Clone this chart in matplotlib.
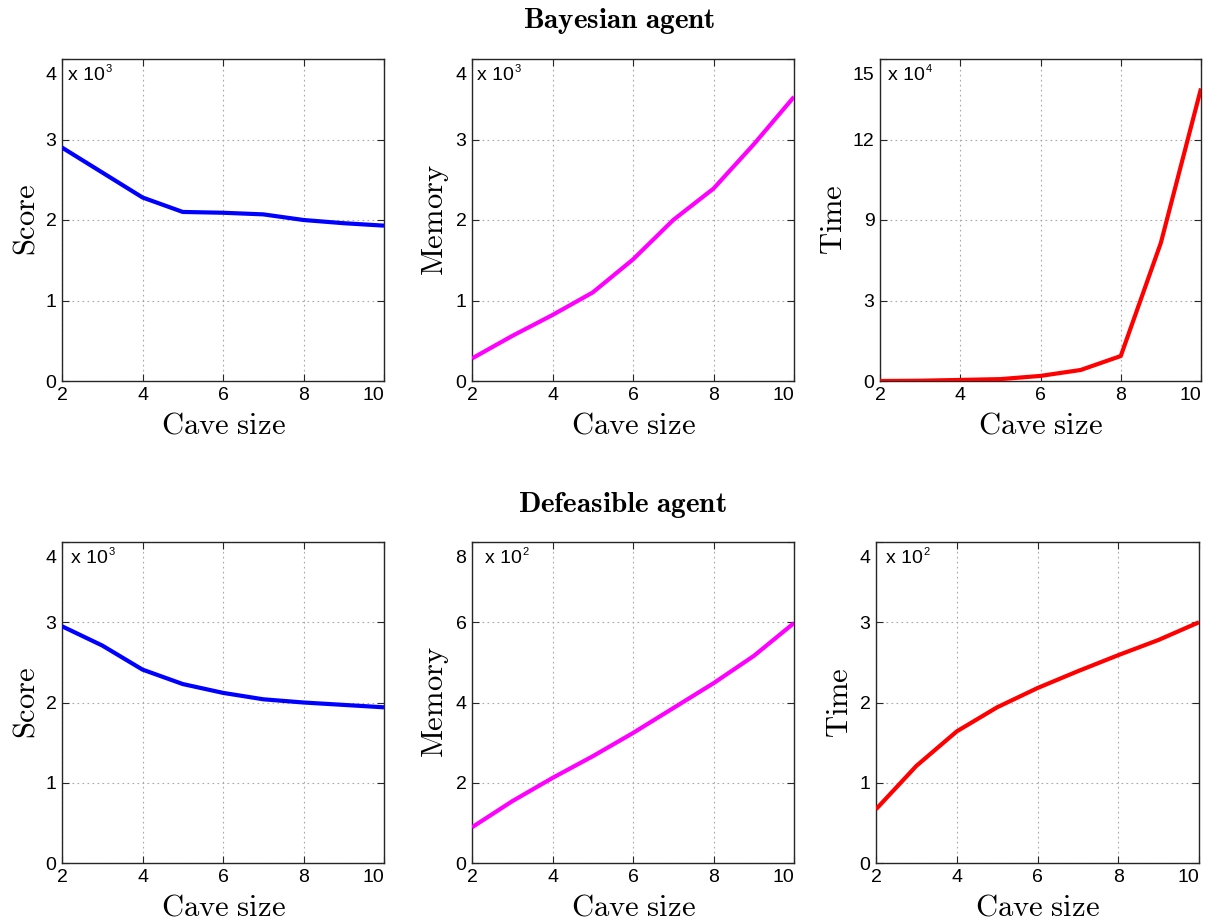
import numpy as np
import matplotlib
matplotlib.use("Agg")
import matplotlib.pyplot as plt
import matplotlib.transforms as mtransforms

plt.rcParams['font.family'] = ['Liberation Sans', 'DejaVu Sans']
plt.rcParams['mathtext.fontset'] = 'cm'

# ---------------- data ----------------
cave_size = [2, 3, 4, 5, 6, 7, 8, 9, 10]

bayes_score = [2.90, 2.59, 2.28, 2.10, 2.09, 2.07, 2.00, 1.96, 1.93]      # x 10^3
bayes_memory = [0.28, 0.56, 0.82, 1.10, 1.51, 2.00, 2.39, 2.94, 3.53]     # x 10^3
bayes_time = [0.0, 0.01, 0.04, 0.07, 0.19, 0.41, 0.93, 7.3, 13.9]        # x 10^4

def_score = [2.95, 2.71, 2.41, 2.23, 2.12, 2.04, 2.00, 1.97, 1.94]        # x 10^3
def_memory = [0.89, 1.54, 2.12, 2.66, 3.24, 3.86, 4.48, 5.16, 5.98]       # x 10^2
def_time = [0.67, 1.21, 1.64, 1.94, 2.18, 2.39, 2.59, 2.78, 3.00]         # x 10^2

x_ticks = [2, 4, 6, 8, 10]
ticks_0to4 = [0, 1, 2, 3, 4]
ticks_0to8 = [0, 2, 4, 6, 8]
ticks_time_b = [0, 3, 9, 12, 15]   # tick labels as printed in the original

row_titles = ['Bayesian agent', 'Defeasible agent']
x_label = 'Cave size'

# ---------------- figure ----------------
W, H = 1205, 924
fig = plt.figure(figsize=(W / 100, H / 100), dpi=100)


def axes_px(left, right, top, bottom):
    return fig.add_axes([left / W, 1 - bottom / H, (right - left) / W, (bottom - top) / H])


panels = [
    # (box px), y data, color, ylabel, ylim, yticks, exponent, text offset px
    ((62, 384, 59, 381), bayes_score, '#0000ff', 'Score', (0, 4), ticks_0to4, '3', 6),
    ((472, 794, 59, 381), bayes_memory, '#ff00ff', 'Memory', (0, 4), ticks_0to4, '3', 5),
    ((880, 1201, 59, 381), bayes_time, '#ff0000', 'Time', (0, 15), ticks_time_b, '4', 8),
    ((62, 384, 542, 863), def_score, '#0000ff', 'Score', (0, 4), ticks_0to4, '3', 9),
    ((472, 794, 542, 863), def_memory, '#ff00ff', 'Memory', (0, 8), ticks_0to8, '2', 13),
    ((876, 1199, 542, 863), def_time, '#ff0000', 'Time', (0, 4), ticks_0to4, '2', 10),
]

tick_fs = 14
for i, (box, ydata, color, ylab, ylim, yticks, expo, dx) in enumerate(panels):
    ax = axes_px(*box)
    if yticks == ticks_time_b:
        pos = [0, 1, 2, 3, 4]
        fwd = lambda v, p=pos, t=ticks_time_b: np.interp(v, t, p)
        inv = lambda v, p=pos, t=ticks_time_b: np.interp(v, p, t)
        ax.set_yscale('function', functions=(fwd, inv))
    ax.plot(cave_size, ydata, color=color, lw=3.0, solid_capstyle='butt', zorder=3)
    ax.set_xlim(2, 10)
    ax.set_ylim(*ylim)
    ax.set_xticks(x_ticks)
    ax.set_yticks(yticks)
    ax.set_xticklabels([str(t) for t in x_ticks])
    ax.set_yticklabels([str(t) for t in yticks])
    ax.minorticks_off()
    ax.grid(True, linestyle=(0, (1.5, 3)), color='#a8a8a8', lw=0.8)
    ax.tick_params(direction='in', top=True, right=True, length=5, width=0.8,
                   color='#262626', labelsize=tick_fs, labelcolor='black', pad=4)
    for s in ax.spines.values():
        s.set_color('#262626')
        s.set_linewidth(1.0)

    # MATLAB-like placement of the extreme tick labels
    ylabels = ax.get_yticklabels()
    top_lab = ylabels[-1]
    top_lab.set_verticalalignment('top')
    top_lab.set_transform(top_lab.get_transform() +
                          mtransforms.ScaledTranslation(0, -0.08, fig.dpi_scale_trans))
    xlabels = ax.get_xticklabels()
    xlabels[-1].set_horizontalalignment('right')

    ax.set_xlabel(r'$\mathrm{' + x_label.replace(' ', r'\ ') + '}$', fontsize=22, labelpad=5)
    ax.set_ylabel(r'$\mathrm{' + ylab + '}$', fontsize=22, labelpad=3)

    t = ax.annotate('x 10', xy=(0, 1), xycoords='axes fraction', xytext=(dx, -8),
                    textcoords='offset pixels', ha='left', va='top', fontsize=tick_fs)
    ax.annotate(expo, xy=(1, 1), xycoords=t, xytext=(1, 3), textcoords='offset pixels',
                ha='left', va='top', fontsize=8)

fig.text(619 / W, 1 - 28 / H, r'$\mathbf{' + row_titles[0].replace(' ', r'\ ') + '}$',
         ha='center', va='baseline', fontsize=21)
fig.text(622 / W, 1 - 512 / H, r'$\mathbf{' + row_titles[1].replace(' ', r'\ ') + '}$',
         ha='center', va='baseline', fontsize=21)

fig.savefig('out.png', dpi=100, facecolor='white')
